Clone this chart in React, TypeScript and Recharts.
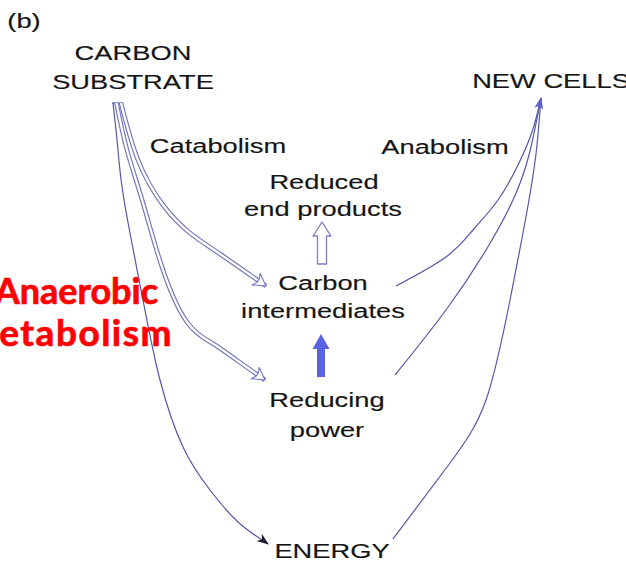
import React from "react";
import { ComposedChart, Line, Scatter, XAxis, YAxis } from "recharts";

// diagram space is laid out 1:1 with the picture (x right, y down)
const W = 626;
const H = 563;

type Pt = { x: number; y: number };

// catabolism: substrate -> intermediates / reducing power / energy
const substrateToIntermediates: Pt[] = [
  { x: 121, y: 103 },
  { x: 138, y: 160 },
  { x: 163, y: 205 },
  { x: 190, y: 233 },
  { x: 220, y: 254 },
  { x: 266, y: 286 },
];
const substrateToReducing: Pt[] = [
  { x: 116.5, y: 103 },
  { x: 127, y: 150 },
  { x: 143, y: 203 },
  { x: 163, y: 270 },
  { x: 187, y: 322 },
  { x: 212, y: 343 },
  { x: 238, y: 361 },
  { x: 265, y: 380 },
];
const substrateToEnergy: Pt[] = [
  { x: 113, y: 103 },
  { x: 118, y: 150 },
  { x: 124, y: 200 },
  { x: 143, y: 300 },
  { x: 160, y: 380 },
  { x: 183, y: 447 },
  { x: 210, y: 490 },
  { x: 238, y: 522 },
  { x: 268, y: 544 },
];
const substrateCap: Pt[] = [
  { x: 112, y: 103 },
  { x: 123, y: 103 },
];

// anabolism: everything -> new cells
const intermediatesToCells: Pt[] = [
  { x: 396, y: 286 },
  { x: 446, y: 257 },
  { x: 473, y: 230 },
  { x: 498, y: 200 },
  { x: 518, y: 165 },
  { x: 532, y: 132 },
  { x: 541, y: 98 },
];
const reducingToCells: Pt[] = [
  { x: 395, y: 375 },
  { x: 446, y: 310 },
  { x: 486, y: 250 },
  { x: 513, y: 200 },
  { x: 529, y: 155 },
  { x: 541, y: 98 },
];
const energyToCells: Pt[] = [
  { x: 393, y: 539 },
  { x: 450, y: 463 },
  { x: 486, y: 400 },
  { x: 510, y: 300 },
  { x: 529, y: 200 },
  { x: 537, y: 145 },
  { x: 541, y: 98 },
];

const labels = [
  { text: "(b)", x: 24, y: 28 },
  { text: "CARBON", x: 133, y: 60 },
  { text: "SUBSTRATE", x: 133, y: 89 },
  { text: "NEW CELLS", x: 551, y: 88 },
  { text: "Catabolism", x: 218, y: 153 },
  { text: "Anabolism", x: 445, y: 154 },
  { text: "Reduced", x: 324, y: 189 },
  { text: "end products", x: 323, y: 216 },
  { text: "Carbon", x: 323, y: 290 },
  { text: "intermediates", x: 323, y: 318 },
  { text: "Reducing", x: 327, y: 407 },
  { text: "power", x: 327, y: 437 },
  { text: "ENERGY", x: 332, y: 558 },
];

// red caption pasted over the figure, cut by the left edge like the source
const overlay = [
  { text: "Anaerobic", x: 158, y: 304 },
  { text: "Metabolism", x: 173, y: 346 },
];

const blockArrows = [
  { x: 322, y: 222, filled: false },
  { x: 321, y: 334, filled: true },
];

const THIN = "#5458a6";
const DOUBLE = "#7075ba";
const SX = 1.3;

const angleOf = (pts: Pt[]) => {
  const a = pts[pts.length - 2];
  const b = pts[pts.length - 1];
  return (Math.atan2(b.y - a.y, b.x - a.x) * 180) / Math.PI;
};

const heads = [
  { pts: substrateToIntermediates, kind: "open" },
  { pts: substrateToReducing, kind: "open" },
  { pts: substrateToEnergy, kind: "barb" },
  { pts: reducingToCells, kind: "cells" },
].map((h) => ({
  x: h.pts[h.pts.length - 1].x,
  y: h.pts[h.pts.length - 1].y,
  angle: angleOf(h.pts),
  kind: h.kind,
}));

const LabelShape = (props: any) => {
  const { cx, cy, payload } = props;
  return (
    <text
      transform={`translate(${cx},${cy}) scale(${SX},1)`}
      textAnchor="middle"
      fontFamily="'Liberation Sans', Arial, sans-serif"
      fontSize={21}
      fill="#151515"
      stroke="#151515"
      strokeWidth={0.15}
    >
      {payload.text}
    </text>
  );
};

const OverlayShape = (props: any) => {
  const { cx, cy, payload, index } = props;
  const first = index === 0;
  return (
    <text
      x={cx}
      y={cy}
      textAnchor="end"
      fontFamily="Lato, 'Noto Sans', sans-serif"
      fontWeight={700}
      fontSize={first ? 36 : 37}
      letterSpacing={first ? 0 : 1.5}
      fill="#ff0000"
      stroke="#ff0000"
      strokeWidth={0.7}
    >
      {payload.text}
    </text>
  );
};

const HeadShape = (props: any) => {
  const { cx, cy, payload } = props;
  const t = `translate(${cx},${cy}) rotate(${payload.angle})`;
  if (payload.kind === "open") {
    return (
      <path
        transform={t}
        d="M0,0 L-12,-7 L-9.5,-2.2 L-9.5,2.2 L-12,7 Z"
        fill="#fff"
        stroke={DOUBLE}
        strokeWidth={1.1}
        strokeLinejoin="round"
      />
    );
  }
  if (payload.kind === "barb") {
    return <path transform={t} d="M1,0 L-11,-4.5 L-7.5,0 L-11,4.5 Z" fill="#1e1e2a" />;
  }
  return <path transform={t} d="M1,0 L-11,-4.5 L-8,0 L-11,4.5 Z" fill="#5a60cc" />;
};

const BlockArrowShape = (props: any) => {
  const { cx, cy, payload } = props;
  if (payload.filled) {
    const d = `M${cx},${cy} L${cx + 8.5},${cy + 15} L${cx + 4},${cy + 15} L${cx + 4},${cy + 43} L${cx - 4},${cy + 43} L${cx - 4},${cy + 15} L${cx - 8.5},${cy + 15} Z`;
    return <path d={d} fill="#5b63e4" />;
  }
  const d = `M${cx},${cy} L${cx + 9},${cy + 14} L${cx + 4.5},${cy + 14} L${cx + 4.5},${cy + 42} L${cx - 4.5},${cy + 42} L${cx - 4.5},${cy + 14} L${cx - 9},${cy + 14} Z`;
  return <path d={d} fill="#fff" stroke="#7c80c0" strokeWidth={1.3} strokeLinejoin="round" />;
};

const thinLinks = [substrateToEnergy, substrateCap, intermediatesToCells, reducingToCells, energyToCells];
const doubleLinks = [substrateToReducing, substrateToIntermediates];

export default function App() {
  return (
    <div style={{ position: "absolute", left: 0, top: 0, width: W, height: H, background: "#fff" }}>
      <ComposedChart width={W} height={H} margin={{ top: 0, right: 0, bottom: 0, left: 0 }}>
        <XAxis hide type="number" dataKey="x" domain={[0, W]} allowDataOverflow />
        <YAxis hide type="number" dataKey="y" domain={[0, H]} reversed allowDataOverflow />
        {thinLinks.map((pts, i) => (
          <Line
            key={`thin-${i}`}
            data={pts}
            dataKey="y"
            type="natural"
            stroke={THIN}
            strokeWidth={1.2}
            dot={false}
            activeDot={false}
            isAnimationActive={false}
          />
        ))}
        {doubleLinks.map((pts, i) => (
          <Line
            key={`dbl-out-${i}`}
            data={pts}
            dataKey="y"
            type="natural"
            stroke={DOUBLE}
            strokeWidth={4.6}
            dot={false}
            activeDot={false}
            isAnimationActive={false}
          />
        ))}
        {doubleLinks.map((pts, i) => (
          <Line
            key={`dbl-in-${i}`}
            data={pts}
            dataKey="y"
            type="natural"
            stroke="#ffffff"
            strokeWidth={2.3}
            dot={false}
            activeDot={false}
            isAnimationActive={false}
          />
        ))}
        <Scatter data={heads} shape={HeadShape} isAnimationActive={false} />
        <Scatter data={blockArrows} shape={BlockArrowShape} isAnimationActive={false} />
        <Scatter data={labels} shape={LabelShape} isAnimationActive={false} />
        <Scatter data={overlay} shape={OverlayShape} isAnimationActive={false} />
      </ComposedChart>
    </div>
  );
}
